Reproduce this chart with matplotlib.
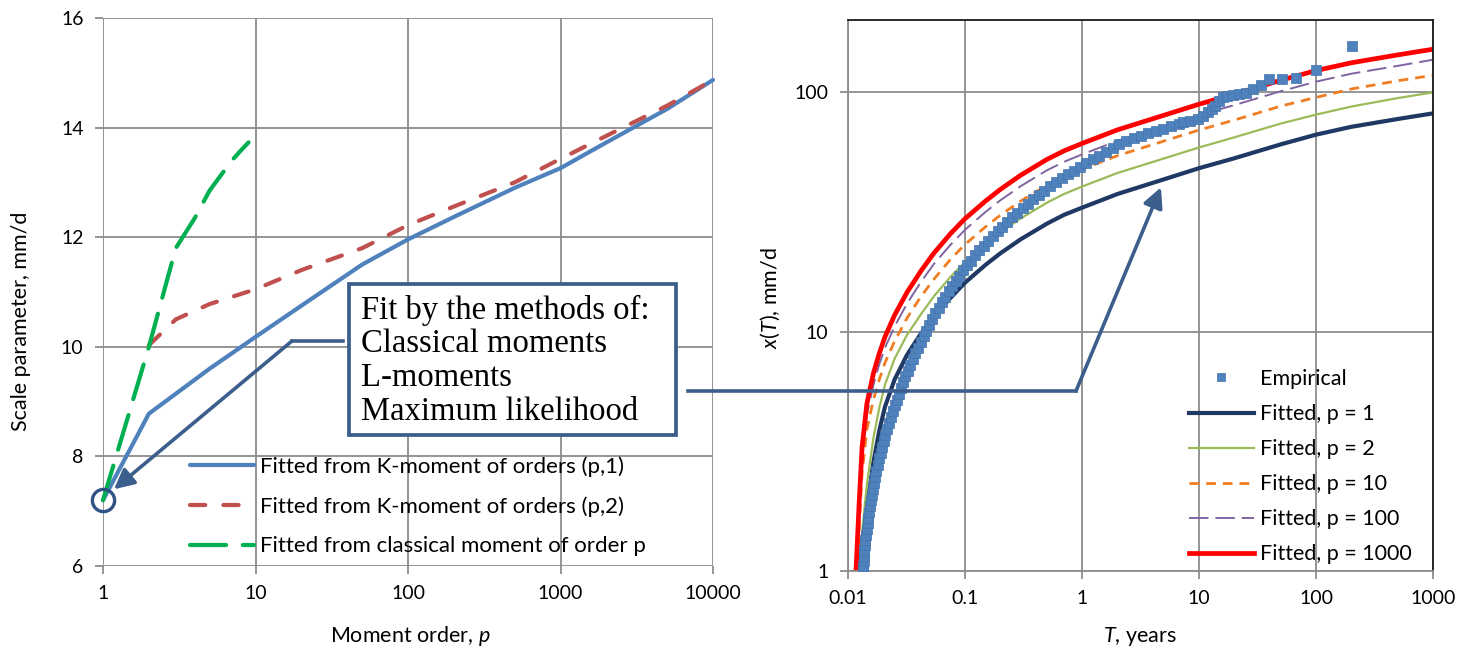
import matplotlib
matplotlib.use("Agg")
import matplotlib.pyplot as plt
from matplotlib.patches import Rectangle, ConnectionPatch
from matplotlib.lines import Line2D
from matplotlib.ticker import NullLocator

plt.rcParams['font.family'] = ['Lato', 'DejaVu Sans']
plt.rcParams['mathtext.fontset'] = 'custom'
plt.rcParams['mathtext.it'] = 'Lato:italic'
plt.rcParams['mathtext.rm'] = 'Lato'
plt.rcParams['lines.scale_dashes'] = False

# ---- left panel: scale parameter vs moment order ----
p_k1 = [1, 2, 5, 10, 20, 50, 100, 200, 500, 1000, 2000, 5000, 10000]
scale_k1 = [7.2, 8.78, 9.6, 10.18, 10.75, 11.5, 11.96, 12.37, 12.9, 13.26, 13.73, 14.34, 14.87]

p_k2 = [2, 3, 5, 10, 20, 50, 100, 200, 500, 1000, 2000, 5000, 10000]
scale_k2 = [10.03, 10.5, 10.78, 11.05, 11.4, 11.8, 12.22, 12.56, 13.0, 13.43, 13.85, 14.4, 14.87]

p_cl = [1, 2, 3, 4, 5, 6, 7, 8, 9]
scale_cl = [7.2, 10.0, 11.8, 12.35, 12.85, 13.15, 13.4, 13.58, 13.73]

p_ticks = [1, 10, 100, 1000, 10000]

# ---- right panel: return level vs return period ----
T_fit = [0.0117, 0.0125, 0.0132, 0.0145, 0.0165, 0.0185, 0.0207, 0.025, 0.032,
         0.042, 0.054, 0.075, 0.1, 0.15, 0.2, 0.3, 0.5, 0.7, 1, 2, 5, 10, 20,
         50, 100, 200, 500, 1000]
x_p1 = [0.7, 1.0, 1.27, 1.85, 2.85, 3.85, 4.85, 6.3, 8.0, 9.8, 11.5, 13.8, 16.0,
        19.0, 21.2, 24.3, 28.2, 30.7, 32.9, 37.5, 43.2, 48.1, 52.9, 60.5, 66.4,
        71.6, 77.2, 81.5]
x_p2 = [0.6, 1.0, 1.45, 2.3, 3.6, 4.8, 6.0, 7.7, 9.7, 11.8, 14.0, 16.9, 19.5,
        23.2, 25.9, 29.7, 34.5, 37.5, 40.3, 45.9, 52.8, 58.7, 64.7, 73.9, 80.5,
        87.0, 94.4, 99.7]
x_p10 = [0.78, 1.56, 2.57, 3.9, 5.2, 6.3, 7.4, 9.1, 11.4, 14.0, 16.5, 20.0, 23.1,
         27.4, 30.6, 35.1, 40.8, 44.3, 47.6, 54.2, 62.4, 69.4, 76.4, 87.4, 95.0,
         103.0, 111.5, 117.5]
x_p100 = [0.9, 1.8, 3.0, 4.5, 6.0, 7.3, 8.55, 10.5, 13.1, 16.1, 19.1, 23.0, 26.6,
          31.6, 35.3, 40.5, 47.1, 51.1, 54.9, 62.5, 72.0, 80.1, 88.2, 100.8,
          110.5, 119.3, 128.7, 136.5]
x_p1000 = [1.0, 2.0, 3.3, 5.0, 6.7, 8.1, 9.5, 11.7, 14.6, 17.9, 21.2, 25.6, 29.6,
           35.1, 39.2, 45.0, 52.3, 56.8, 61.0, 69.5, 80.0, 89.0, 98.0, 112.0,
           123.0, 132.5, 143.0, 151.0]

T_emp = [0.0134, 0.0135, 0.0136, 0.0137, 0.0138, 0.0140, 0.0141, 0.0143, 0.0145,
         0.0147, 0.0149, 0.0151, 0.0154, 0.0157, 0.0160, 0.0163, 0.0167, 0.0171,
         0.0175, 0.0180, 0.0185, 0.0190, 0.0196, 0.0202, 0.0209, 0.0216, 0.0224,
         0.0232, 0.0241, 0.0250, 0.0260, 0.0271, 0.0283, 0.0296, 0.0310, 0.0325,
         0.0341, 0.0358, 0.0377, 0.0397, 0.0419, 0.0442, 0.0467, 0.0495, 0.0525,
         0.0558, 0.0594, 0.0633, 0.0676, 0.0723, 0.0775, 0.0832, 0.0895, 0.0965,
         0.104, 0.113, 0.122, 0.133, 0.145, 0.158, 0.173, 0.190, 0.209, 0.230,
         0.254, 0.281, 0.311, 0.345, 0.384, 0.428, 0.478, 0.535, 0.600, 0.674,
         0.758, 0.855, 0.966, 1.09, 1.24, 1.41, 1.60, 1.83, 2.09, 2.40, 2.76,
         3.18, 3.68, 4.27, 4.97, 5.80, 6.80, 7.30, 8.40, 9.9, 10.9, 12.0, 12.8,
         13.7, 14.9, 15.9, 17.5, 19.7, 22.1, 25.2, 28.8, 33.6, 40.0, 51.0, 67.5,
         100.0, 202.0]
x_emp = [1.00, 1.05, 1.10, 1.16, 1.22, 1.28, 1.35, 1.42, 1.50, 1.58, 1.67, 1.76,
         1.86, 1.97, 2.08, 2.20, 2.33, 2.47, 2.62, 2.78, 2.95, 3.12, 3.30, 3.50,
         3.70, 3.92, 4.15, 4.40, 4.65, 4.92, 5.20, 5.50, 5.82, 6.15, 6.50, 6.87,
         7.26, 7.67, 8.10, 8.56, 9.04, 9.55, 10.1, 10.7, 11.3, 11.9, 12.6, 13.3,
         14.0, 14.7, 15.5, 16.3, 17.1, 18.0, 18.9, 19.8, 20.8, 21.8, 22.8, 23.9,
         25.0, 26.2, 27.4, 28.7, 30.0, 31.4, 32.8, 34.2, 35.7, 37.2, 38.8, 40.4,
         42.0, 43.6, 45.3, 47.0, 48.8, 50.6, 52.4, 54.3, 56.4, 58.6, 60.6, 62.4,
         64.0, 65.6, 67.2, 68.8, 70.4, 72.0, 73.6, 75.0, 75.8, 77.0, 79.5, 82.3,
         84.9, 87.7, 91.4, 95.0, 96.5, 97.4, 98.0, 99.3, 102.6, 107.0, 113.0,
         113.0, 115.0, 124.0, 156.0]

T_ticks = [0.01, 0.1, 1, 10, 100, 1000]
x_ticks = [1, 10, 100]

methods = ["Fit by the methods of:", "Classical moments", "L-moments",
           "Maximum likelihood"]

GRID = '#8c8c8c'
LINK = '#3b5e8c'
TICK_FS = 14
LAB_FS = 15.5

W, H = 1459, 649
fig = plt.figure(figsize=(W / 100, H / 100), dpi=100)


def fpx(x, y):
    # pixel position (origin top-left) -> figure fraction
    return (x / W, 1 - y / H)


ax1 = fig.add_axes([103 / W, 1 - 566 / H, 610 / W, 548 / H])
ax2 = fig.add_axes([848 / W, 1 - 571 / H, 585 / W, 551 / H])

# left panel
ax1.plot(p_k1, scale_k1, color='#4f81bd', lw=3, solid_capstyle='round',
         clip_on=False, label='Fitted from K-moment of orders (p,1)')
ax1.plot(p_k2, scale_k2, color='#c0504d', lw=3, dashes=(11, 13),
         dash_capstyle='round', clip_on=False,
         label='Fitted from K-moment of orders (p,2)')
ax1.plot(p_cl, scale_cl, color='#00b050', lw=3, dashes=(26, 12),
         dash_capstyle='round', clip_on=False,
         label='Fitted from classical moment of order p')
ax1.plot([p_k1[0]], [scale_k1[0]], 'o', ms=16, mfc='none', mec='#2f5287',
         mew=2.4, clip_on=False, zorder=5)

ax1.set_xscale('log')
ax1.set_xlim(1, 10000)
ax1.set_ylim(6, 16)
ax1.set_xticks(p_ticks, [str(v) for v in p_ticks])
ax1.set_yticks(range(6, 17, 2))
ax1.xaxis.set_minor_locator(NullLocator())
ax1.grid(True, color=GRID, lw=1.3)
for s in ax1.spines.values():
    s.set_visible(False)
ax1.tick_params(direction='out', length=6, width=1.3, color=GRID,
                labelsize=TICK_FS, pad=8)
ax1.set_xlabel('Moment order, $p$', fontsize=LAB_FS, va='center')
ax1.xaxis.set_label_coords(0.503, -(636 - 566) / 548)
ax1.set_ylabel('Scale parameter, mm/d', fontsize=LAB_FS, va='center')
ax1.yaxis.set_label_coords(-0.134, 0.447)

ax1.legend(loc='upper left', bbox_to_anchor=(0.1426, 0.2007),
           frameon=False, fontsize=16, handlelength=2.9,
           handletextpad=0.27, labelspacing=0.88, borderpad=0,
           borderaxespad=0)

# right panel
ax2.plot(T_fit, x_p1, color='#1f3864', lw=3, label='Fitted, p = 1')
ax2.plot(T_fit, x_p2, color='#9bbb59', lw=1.6, label='Fitted, p = 2')
ax2.plot(T_fit, x_p10, color='#f07d22', lw=2, dashes=(7, 5),
         label='Fitted, p = 10')
ax2.plot(T_fit, x_p100, color='#8064a2', lw=1.4, dashes=(14, 5),
         label='Fitted, p = 100')
ax2.plot(T_fit, x_p1000, color='#ff0000', lw=3.4, label='Fitted, p = 1000')
ax2.plot(T_emp, x_emp, 's', ms=7.2, mfc='#4f81bd', mec='#4274ad', mew=0.5,
         ls='none', zorder=4, label='Empirical')

ax2.set_xscale('log')
ax2.set_yscale('log')
ax2.set_xlim(0.01, 1000)
ax2.set_ylim(1, 200)
ax2.set_xticks(T_ticks, [f'{v:g}' for v in T_ticks])
ax2.set_yticks(x_ticks, [str(v) for v in x_ticks])
ax2.xaxis.set_minor_locator(NullLocator())
ax2.yaxis.set_minor_locator(NullLocator())
ax2.grid(True, color=GRID, lw=1.3)
for side in ['left', 'bottom']:
    ax2.spines[side].set_color(GRID)
    ax2.spines[side].set_linewidth(1.3)
for side in ['top', 'right']:
    ax2.spines[side].set_color('#1a1a1a')
    ax2.spines[side].set_linewidth(1.3)
ax2.tick_params(direction='out', length=6, width=1.3, color=GRID,
                labelsize=TICK_FS, pad=8)
ax2.set_xlabel('$T$, years', fontsize=LAB_FS, va='center')
ax2.xaxis.set_label_coords(0.499, -(636 - 571) / 551)
ax2.set_ylabel('$x$($T$), mm/d', fontsize=LAB_FS, va='center')
ax2.yaxis.set_label_coords(-0.132, 0.495)

hnd, lab = ax2.get_legend_handles_labels()
order = [5, 0, 1, 2, 3, 4]
ax2.legend([hnd[i] for i in order], [lab[i] for i in order],
           loc='upper left', bbox_to_anchor=(0.583, 0.3666), frameon=False,
           fontsize=15.5, handlelength=3.0, handletextpad=0.28,
           labelspacing=0.7, borderpad=0, borderaxespad=0, numpoints=1,
           markerscale=0.75)

# annotation box with the estimation methods
fig.add_artist(Rectangle(fpx(349, 435), 327 / W, 151 / H,
                         transform=fig.transFigure, facecolor='white',
                         edgecolor=LINK, lw=2.7, zorder=10))
for i, line in enumerate(methods):
    fx, fy = fpx(361, 319 + 33.5 * i)
    fig.text(fx, fy, line, family='Liberation Serif', fontsize=23.5,
             va='baseline', ha='left', zorder=11)

# connector to the left panel
fig.add_artist(Line2D([343 / W, 292 / W], [fpx(0, 341)[1]] * 2,
                      transform=fig.transFigure, color=LINK, lw=2.6,
                      zorder=10))
fig.add_artist(ConnectionPatch(xyA=fpx(292, 341), coordsA='figure fraction',
                               xyB=(1.18, 7.4), coordsB=ax1.transData,
                               arrowstyle='-|>', mutation_scale=30,
                               color=LINK, lw=2.6, shrinkA=0, shrinkB=0,
                               capstyle='round', zorder=10))

# connector to the right panel
fig.add_artist(Line2D([688 / W, 1076 / W], [fpx(0, 391)[1]] * 2,
                      transform=fig.transFigure, color=LINK, lw=2.6,
                      zorder=10))
fig.add_artist(ConnectionPatch(xyA=fpx(1076, 391), coordsA='figure fraction',
                               xyB=(4.73, 40.0), coordsB=ax2.transData,
                               arrowstyle='-|>', mutation_scale=30,
                               color=LINK, lw=2.6, shrinkA=0, shrinkB=0,
                               capstyle='round', zorder=10))

fig.savefig('out.png', dpi=100)
